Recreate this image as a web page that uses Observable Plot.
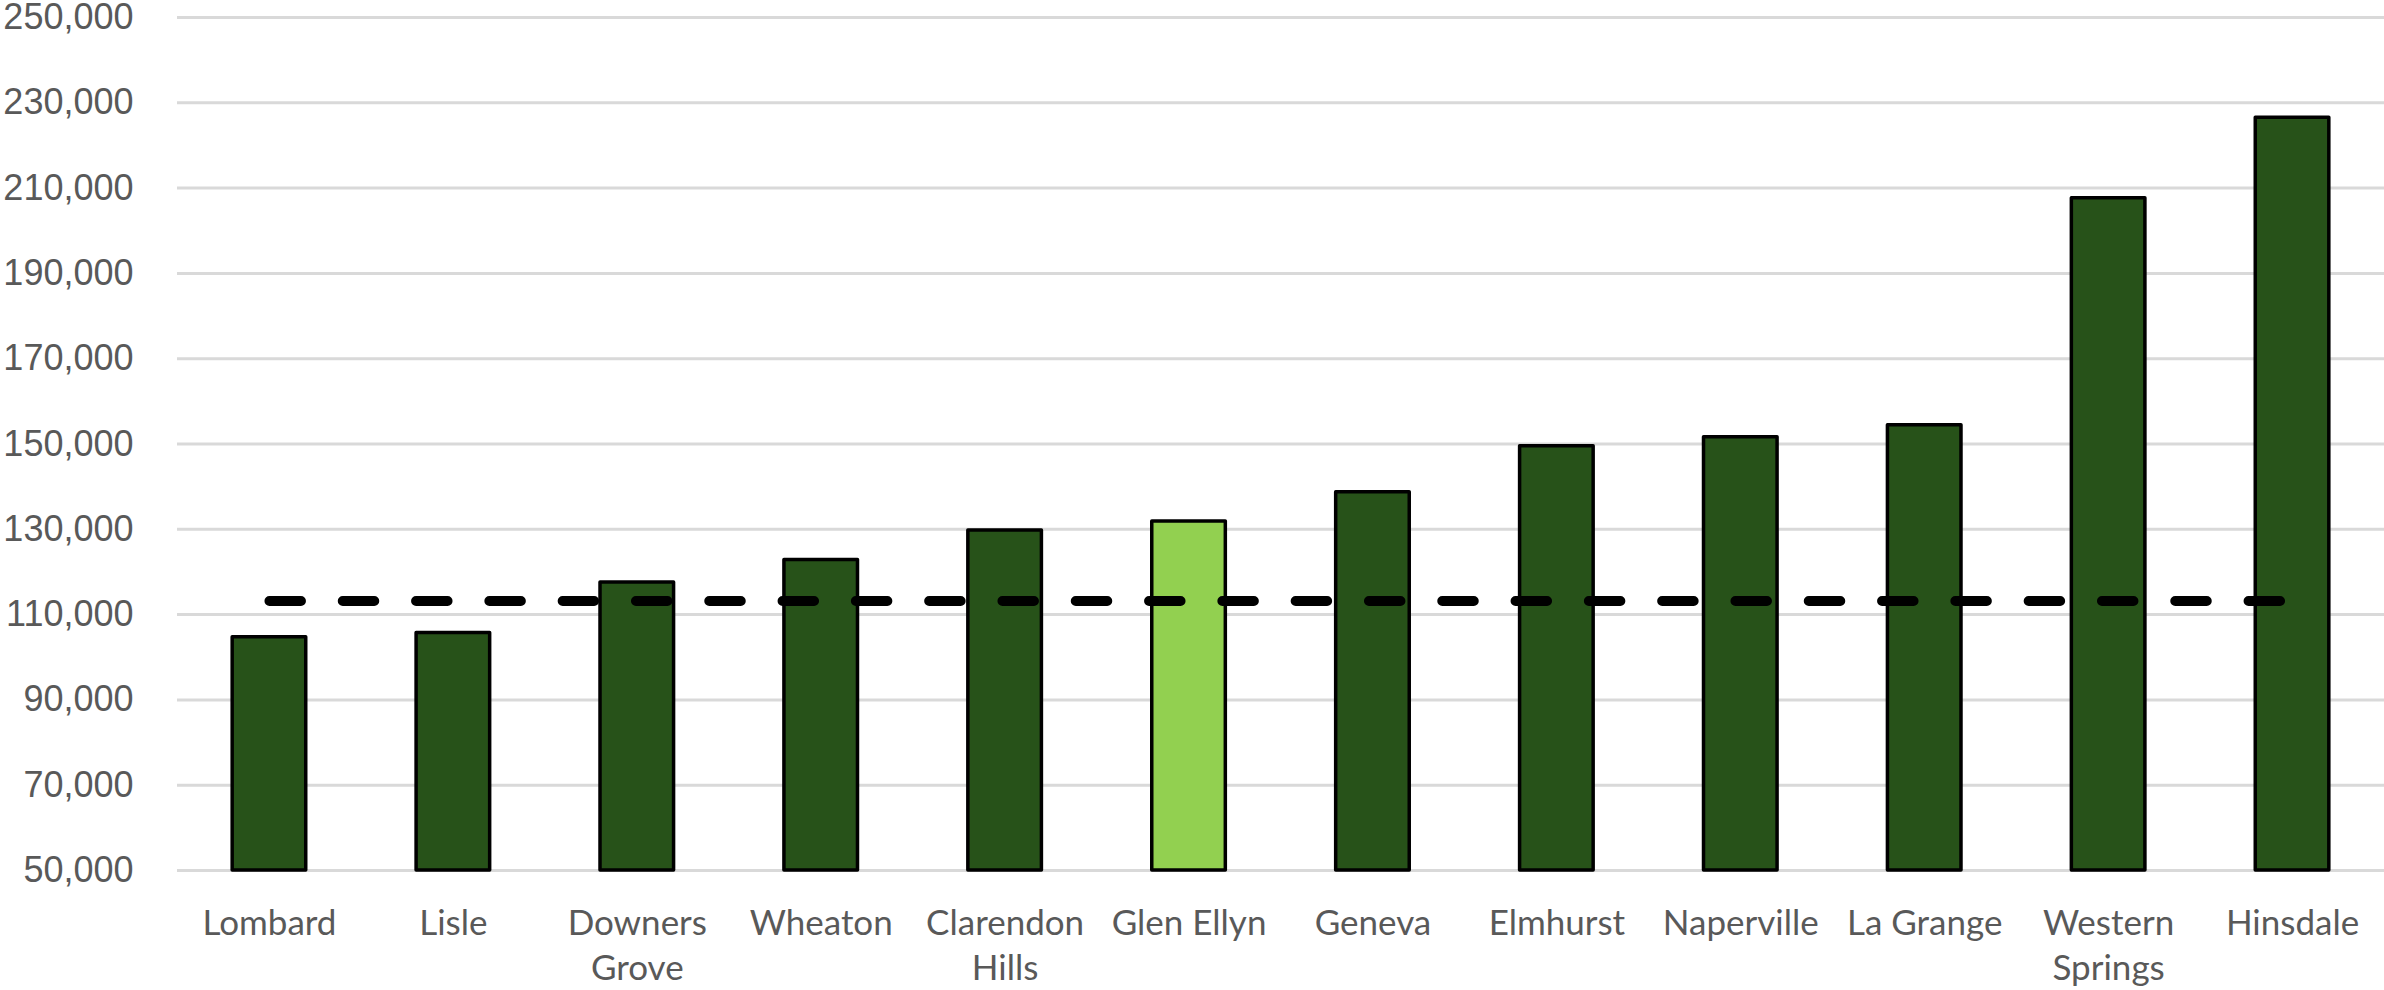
<!DOCTYPE html>
<html>
<head>
<meta charset="utf-8">
<script src="https://cdn.jsdelivr.net/npm/d3@7"></script>
<script src="https://cdn.jsdelivr.net/npm/@observablehq/plot@0.6"></script>
<style>
  html, body { margin: 0; padding: 0; background: #ffffff; }
  #chart svg { display: block; }
</style>
</head>
<body>
<div id="chart"></div>
<script>
// Categories (ordered as in the chart)
const towns = ["Lombard", "Lisle", "Downers Grove", "Wheaton", "Clarendon Hills", "Glen Ellyn",
               "Geneva", "Elmhurst", "Naperville", "La Grange", "Western Springs", "Hinsdale"];
// Tick labels as displayed (wrapped)
const townLabels = ["Lombard", "Lisle", "Downers\nGrove", "Wheaton", "Clarendon\nHills", "Glen Ellyn",
                    "Geneva", "Elmhurst", "Naperville", "La Grange", "Western\nSprings", "Hinsdale"];
// Series values
const values = [104700, 105700, 117500, 122800, 129700, 131800,
                138700, 149500, 151600, 154400, 207600, 226500];
// Highlighted category
const highlight = ["Glen Ellyn"];
// Average (dashed reference line)
const averageValue = 113200;
// Y tick values
const yTicks = [50000, 70000, 90000, 110000, 130000, 150000, 170000, 190000, 210000, 230000, 250000];

const data = towns.map((t, i) => ({town: t, label: townLabels[i], value: values[i], hl: highlight.includes(t)}));
const avgData = towns.map(t => ({town: t, value: averageValue}));

const chart = Plot.plot({
  width: 2384,
  height: 990,
  marginTop: 17,
  marginBottom: 120,
  marginLeft: 177,
  marginRight: 0,
  style: {color: "#595959", background: "#ffffff"},
  x: {domain: towns, paddingInner: 0.6, paddingOuter: 0.3, round: false, axis: null, label: null},
  y: {domain: [yTicks[0], yTicks[yTicks.length - 1]], axis: null, label: null},
  marks: [
    Plot.ruleY(yTicks, {stroke: "#d9d9d9", strokeWidth: 3}),
    Plot.axisY(yTicks, {
      tickSize: 0, tickPadding: 44, fontSize: 36, label: null,
      fontFamily: "Liberation Sans, Arial, sans-serif",
      tickFormat: d3.format(","), anchor: "left"
    }),
    Plot.barY(data, {
      x: "town", y1: () => yTicks[0], y2: "value",
      fill: d => d.hl ? "#92d050" : "#275219",
      stroke: "#000000", strokeWidth: 3.5, strokeLinejoin: "round"
    }),
    Plot.lineY(avgData, {
      x: "town", y: "value",
      stroke: "#000000", strokeWidth: 10, strokeLinecap: "round",
      strokeDasharray: "31.5,41.8"
    }),
    Plot.text(data, {
      x: "town", text: "label", frameAnchor: "bottom", lineAnchor: "top",
      dy: 32, lineHeight: 1.3, fontSize: 35, fill: "#595959",
      fontFamily: "Lato, sans-serif"
    })
  ]
});
document.getElementById("chart").appendChild(chart);
</script>
</body>
</html>
